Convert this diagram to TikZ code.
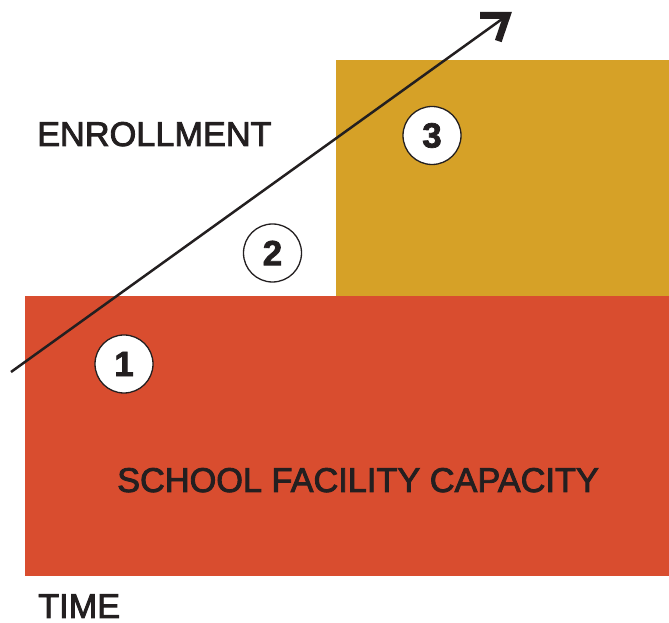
\documentclass[tikz,border=0pt]{standalone}
\usepackage{fontspec}
\setmainfont{Liberation Sans}
\newfontfamily\lblfont{Liberation Sans}[FakeBold=2.5]
\newfontfamily\numfont{Liberation Sans Bold}[FakeBold=2]
\usetikzlibrary{calc}
\definecolor{capred}{HTML}{D94D2F}
\definecolor{enrgold}{HTML}{D6A127}
\definecolor{ink}{HTML}{231F20}
\begin{document}
\begin{tikzpicture}[x=1pt,y=1pt,
  label/.style={font=\lblfont\fontsize{34.3}{36}\selectfont, text=ink, inner sep=0pt},
  num/.style={circle, draw=ink, line width=1.3pt, fill=white, minimum size=58pt, inner sep=0pt,
    font=\numfont\fontsize{35}{37}\selectfont, text=ink}]
\useasboundingbox (0,0) rectangle (669,623);
\fill[capred] (25,47) rectangle (669,327);
\fill[enrgold] (336,327) rectangle (669,563);
\node[label, anchor=base west] (enr) at (37,477) {ENROLLMENT};
\node[label, anchor=base] (cap) at (358,131) {SCHOOL FACILITY CAPACITY};
\node[label, anchor=base west] (time) at (38,5) {TIME};
\coordinate (s) at (11,251);
\coordinate (t) at (507,607.5);
\draw[ink, line width=2.5pt] (s) -- (t);
\draw[ink, line width=7pt, line join=miter, miter limit=10] ($(t)+(180:27)$) -- (t) -- ($(t)+(251.2:27)$);
\node[num] (n1) at (124,259) {1};
\node[num] (n2) at (272.5,370) {2};
\node[num] (n3) at (432,487.5) {3};
\end{tikzpicture}
\end{document}
